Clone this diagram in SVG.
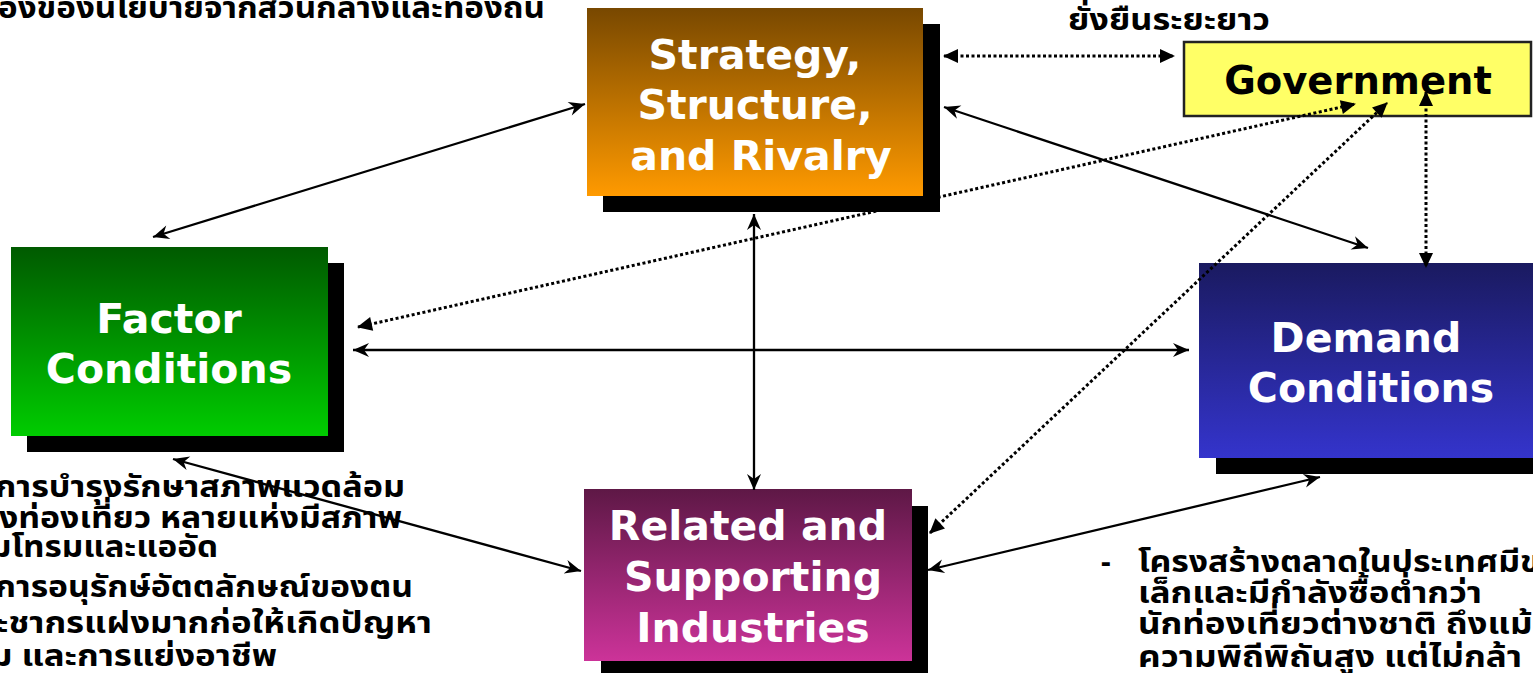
<svg xmlns="http://www.w3.org/2000/svg" width="1533" height="673" viewBox="0 0 1533 673">
<defs>
<style>
.box{font-family:"DejaVu Sans","Liberation Sans",sans-serif;font-weight:bold;font-size:41px;fill:#fff;text-anchor:middle}
.gov{font-family:"DejaVu Sans","Liberation Sans",sans-serif;font-weight:bold;font-size:38.5px;fill:#000;text-anchor:middle}
.th{font-family:"Noto Sans Thai","DejaVu Sans","Noto Sans",sans-serif;font-weight:bold;font-size:30px;fill:#000}
.sol{stroke:#000;stroke-width:2.3;fill:none;marker-start:url(#st);marker-end:url(#st)}
.dot{stroke:#000;stroke-width:3;stroke-dasharray:3 2.5;fill:none;marker-start:url(#tr);marker-end:url(#tr)}
.sh{fill:#000}
</style>
<marker id="st" viewBox="-18 -9 20 18" refX="0" refY="0" markerWidth="20" markerHeight="18" markerUnits="userSpaceOnUse" orient="auto-start-reverse">
<path d="M0,0 L-16,-7 L-11,0 L-16,7 Z" fill="#000"/>
</marker>
<marker id="tr" viewBox="-16 -8 18 16" refX="0" refY="0" markerWidth="18" markerHeight="16" markerUnits="userSpaceOnUse" orient="auto-start-reverse">
<path d="M1,0 L-14,-7 L-14,7 Z" fill="#000"/>
</marker>
<linearGradient id="gS" x1="0" y1="0" x2="0" y2="1"><stop offset="0" stop-color="#784800"/><stop offset="1" stop-color="#FF9A00"/></linearGradient>
<linearGradient id="gF" x1="0" y1="0" x2="0" y2="1"><stop offset="0" stop-color="#005A00"/><stop offset="1" stop-color="#00CC00"/></linearGradient>
<linearGradient id="gD" x1="0" y1="0" x2="0" y2="1"><stop offset="0" stop-color="#1A1A60"/><stop offset="1" stop-color="#3434CC"/></linearGradient>
<linearGradient id="gR" x1="0" y1="0" x2="0" y2="1"><stop offset="0" stop-color="#5E1846"/><stop offset="1" stop-color="#CC3399"/></linearGradient>
</defs>
<rect width="1533" height="673" fill="#fff"/>

<g id="texts">
<text class="th" x="-2" y="18" textLength="547" lengthAdjust="spacingAndGlyphs">องของนโยบายจากส่วนกลางและท้องถิ่น</text>
<text class="th" x="1068" y="30" textLength="202" lengthAdjust="spacingAndGlyphs">ยั่งยืนระยะยาว</text>
<text class="th" x="-5" y="497" textLength="410" lengthAdjust="spacingAndGlyphs">การบำรุงรักษาสภาพแวดล้อม</text>
<text class="th" x="-1" y="528" textLength="403" lengthAdjust="spacingAndGlyphs">งท่องเที่ยว หลายแห่งมีสภาพ</text>
<text class="th" x="-10" y="557" textLength="228" lengthAdjust="spacingAndGlyphs">มโทรมและแออัด</text>
<text class="th" x="-5" y="597" textLength="418" lengthAdjust="spacingAndGlyphs">การอนุรักษ์อัตตลักษณ์ของตน</text>
<text class="th" x="-4" y="633" textLength="436" lengthAdjust="spacingAndGlyphs">ะชากรแฝงมากก่อให้เกิดปัญหา</text>
<text class="th" x="-10" y="666" textLength="287" lengthAdjust="spacingAndGlyphs">ม และการแย่งอาชีพ</text>
<text class="th" x="1101" y="572">-</text>
<text class="th" x="1138" y="572" textLength="402" lengthAdjust="spacingAndGlyphs">โครงสร้างตลาดในประเทศมีข</text>
<text class="th" x="1138" y="603" textLength="344" lengthAdjust="spacingAndGlyphs">เล็กและมีกำลังซื้อต่ำกว่า</text>
<text class="th" x="1138" y="634" textLength="414" lengthAdjust="spacingAndGlyphs">นักท่องเที่ยวต่างชาติ ถึงแม้จ</text>
<text class="th" x="1138" y="667" textLength="384" lengthAdjust="spacingAndGlyphs">ความพิถีพิถันสูง แต่ไม่กล้า</text>
</g>

<g id="node-strategy">
<rect class="sh" x="603" y="24" width="337" height="188"/>
<rect x="587" y="8" width="336" height="188" fill="url(#gS)"/>
<text class="box" x="755" y="69">Strategy,</text>
<text class="box" x="755" y="119">Structure,</text>
<text class="box" x="761" y="170">and Rivalry</text>
</g>

<g id="node-factor">
<rect class="sh" x="27" y="263" width="317" height="189"/>
<rect x="11" y="247" width="317" height="189" fill="url(#gF)"/>
<text class="box" x="169" y="333">Factor</text>
<text class="box" x="169" y="383">Conditions</text>
</g>

<g id="node-demand">
<rect class="sh" x="1216" y="279" width="317" height="195"/>
<rect x="1199" y="263" width="334" height="195" fill="url(#gD)"/>
<text class="box" x="1366" y="352">Demand</text>
<text class="box" x="1371" y="402">Conditions</text>
</g>

<g id="node-related">
<rect class="sh" x="601" y="506" width="327" height="167"/>
<rect x="584" y="489" width="328" height="172" fill="url(#gR)"/>
<text class="box" x="748" y="540">Related and</text>
<text class="box" x="753" y="591">Supporting</text>
<text class="box" x="753" y="642">Industries</text>
</g>

<g id="node-government">
<rect x="1184" y="42" width="347" height="74" fill="#FFFF66" stroke="#222" stroke-width="2.5"/>
<text class="gov" x="1358" y="94">Government</text>
</g>

<g id="connectors">
<line class="sol" x1="585" y1="104" x2="153" y2="237"/>
<line class="sol" x1="944" y1="107" x2="1368" y2="248"/>
<line class="sol" x1="754" y1="214" x2="754" y2="490"/>
<line class="sol" x1="353" y1="350" x2="1189" y2="350"/>
<line class="sol" x1="173" y1="459" x2="581" y2="571"/>
<line class="sol" x1="928" y1="570" x2="1320" y2="477"/>
<line class="dot" x1="944" y1="56" x2="1174" y2="56"/>
<line class="dot" x1="358" y1="327" x2="1355" y2="104"/>
<line class="dot" x1="930" y1="533" x2="1387" y2="103"/>
<line class="dot" x1="1426" y1="92" x2="1426" y2="267"/>
</g>
</svg>
